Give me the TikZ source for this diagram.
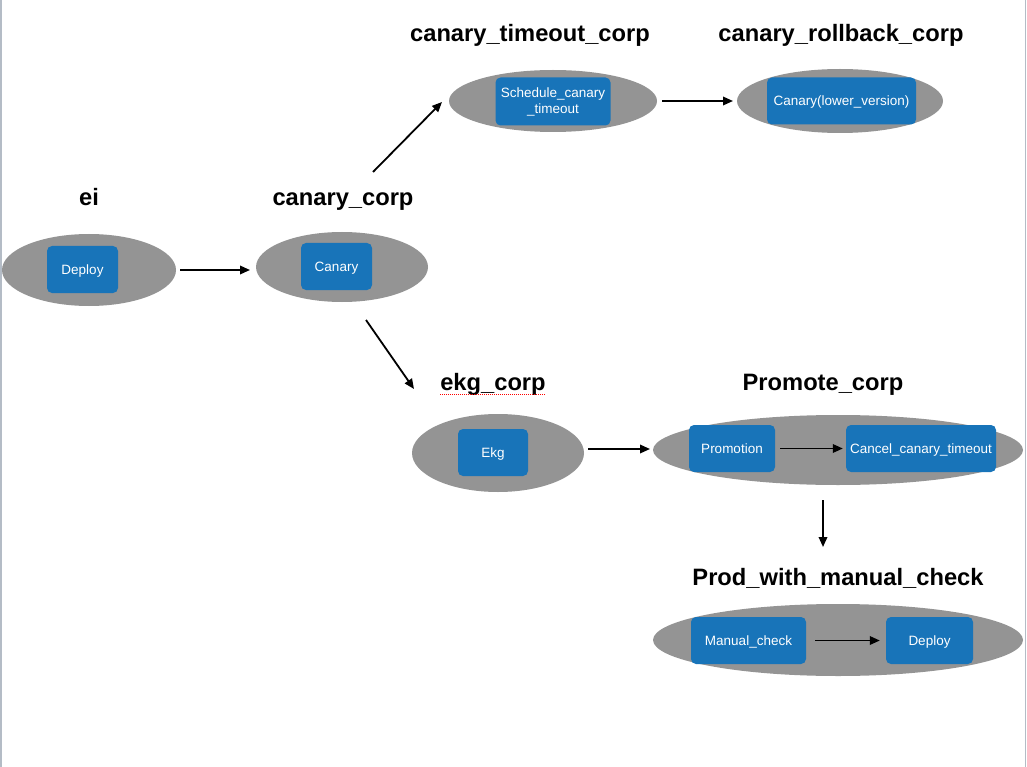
\documentclass[tikz,border=0pt]{standalone}
\usepackage{fontspec}
\setmainfont{Liberation Sans}
\usetikzlibrary{shapes.geometric,arrows.meta}
\definecolor{ellgray}{HTML}{949494}
\definecolor{boxblue}{HTML}{1874B9}
\definecolor{framegray}{HTML}{B4BCC6}
\tikzset{
  ell/.style={ellipse, fill=ellgray, draw=none, inner sep=0pt},
  box/.style={rectangle, rounded corners=5pt, fill=boxblue, text=white, inner sep=2pt, align=center, text height=9.7pt, text depth=0pt, font=\fontsize{13.5}{15}\selectfont},
  ttl/.style={font=\fontsize{23.7}{26}\selectfont\bfseries, text=black, inner sep=0pt, anchor=base},
  arr/.style={line width=1.8pt, -{Triangle[length=10pt,width=8.5pt]}}
}
\begin{document}
\begin{tikzpicture}[x=1pt,y=-1pt]
\useasboundingbox (0,0) rectangle (1027,767);
\fill[white] (0,0) rectangle (1027,767);
\draw[framegray, line width=1.6pt] (1,0) coordinate (fl1) -- (1,767) coordinate (fl2);
\draw[framegray, line width=1.2pt] (1025.5,0) coordinate (fr1) -- (1025.5,767) coordinate (fr2);

% titles
\node[ttl] (tei) at (89,206) {ei};
\node[ttl] (tcan) at (343,206) {canary\_corp};
\node[ttl] (ttime) at (530,42) {canary\_timeout\_corp};
\node[ttl] (troll) at (841,42) {canary\_rollback\_corp};
\node[ttl] (tekg) at (493,390.5) {ekg\_corp};
\node[ttl] (tprom) at (823,390.5) {Promote\_corp};
\node[ttl] (tprod) at (838,585.5) {Prod\_with\_manual\_check};
\draw[red, densely dotted, line width=1pt] ([yshift=-4pt]tekg.base west) -- ([yshift=-4pt]tekg.base east);

% ellipses
\node[ell, minimum width=174pt, minimum height=72pt] (eei) at (89,270) {};
\node[ell, minimum width=172pt, minimum height=70pt] (ecan) at (342,267) {};
\node[ell, minimum width=208pt, minimum height=62pt] (etime) at (553,101) {};
\node[ell, minimum width=206pt, minimum height=64pt] (eroll) at (840,101) {};
\node[ell, minimum width=172pt, minimum height=78pt] (eekg) at (498,453) {};
\node[ell, minimum width=370pt, minimum height=70pt] (eprom) at (838,450) {};
\node[ell, minimum width=370pt, minimum height=72pt] (eprod) at (838,640) {};

% boxes
\node[box, minimum width=71pt, minimum height=47pt] (bdeploy1) at (82.5,269.5) {Deploy};
\node[box, minimum width=71pt, minimum height=47pt] (bcanary) at (336.5,266.5) {Canary};
\node[box, minimum width=115pt, minimum height=48pt, text height=, text depth=, font=\fontsize{13.5}{16}\selectfont] (bsched) at (553,101.5) {Schedule\_canary\\\_timeout};
\node[box, minimum width=149pt, minimum height=47pt] (broll) at (841.5,101) {Canary(lower\_version)};
\node[box, minimum width=70pt, minimum height=47pt] (bekg) at (493,452.5) {Ekg};
\node[box, minimum width=86pt, minimum height=47pt] (bpromo) at (732,448.5) {Promotion};
\node[box, minimum width=150pt, minimum height=47pt] (bcancel) at (921,448.5) {Cancel\_canary\_timeout};
\node[box, minimum width=115pt, minimum height=47pt] (bmanual) at (748.5,640.5) {Manual\_check};
\node[box, minimum width=87pt, minimum height=47pt] (bdeploy2) at (929.5,640.5) {Deploy};

% connectors
\coordinate (a1s) at (180,270);
\coordinate (a1e) at (250,270);
\draw[arr] (a1s) -- (a1e);
\coordinate (a2s) at (373,172);
\coordinate (a2e) at (442,102);
\draw[arr] (a2s) -- (a2e);
\coordinate (a3s) at (366,320);
\coordinate (a3e) at (414,389);
\draw[arr] (a3s) -- (a3e);
\coordinate (a4s) at (662,101);
\coordinate (a4e) at (733,101);
\draw[arr] (a4s) -- (a4e);
\coordinate (a5s) at (588,449);
\coordinate (a5e) at (650,449);
\draw[arr] (a5s) -- (a5e);
\draw[arr, shorten <=5pt, shorten >=3pt] (bpromo.east) -- (bcancel.west);
\coordinate (a6s) at (823,500);
\coordinate (a6e) at (823,547);
\draw[arr] (a6s) -- (a6e);
\draw[arr, shorten <=9pt, shorten >=6pt] (bmanual.east) -- (bdeploy2.west);
\end{tikzpicture}
\end{document}
